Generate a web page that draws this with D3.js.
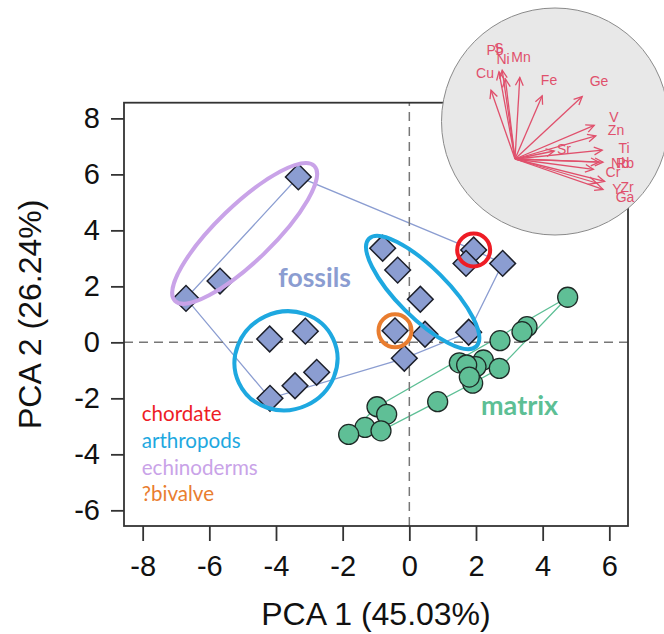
<!DOCTYPE html>
<html>
<head>
<meta charset="utf-8">
<script src="https://cdn.jsdelivr.net/npm/d3@7"></script>
<style>
body { margin: 0; background: #fff; }
svg { display: block; }
</style>
</head>
<body>
<script>
// fossil samples (diamonds), PCA scores
var fossilX = [-3.33, -5.68, -6.70, -4.19, -3.12, -2.78, -3.43, -4.18, -0.80, -0.35, 0.33, -0.43, 0.47, -0.15, 1.78, 1.93, 1.70, 2.80];
var fossilY = [5.91, 2.19, 1.57, 0.12, 0.40, -1.07, -1.55, -2.00, 3.36, 2.58, 1.54, 0.41, 0.29, -0.57, 0.36, 3.30, 2.82, 2.82];
// matrix samples (circles)
var matrixX = [4.75, 3.53, 3.38, 2.72, 2.22, 1.50, 2.00, 1.72, 2.70, 1.90, 1.80, 0.85, -0.97, -0.68, -1.33, -0.85, -1.82];
var matrixY = [1.61, 0.56, 0.38, 0.06, -0.63, -0.73, -0.87, -0.81, -0.93, -1.46, -1.24, -2.12, -2.30, -2.57, -3.04, -3.16, -3.29];

var xTicks = [-8, -6, -4, -2, 0, 2, 4, 6];
var yTicks = [-6, -4, -2, 0, 2, 4, 6, 8];

var groups = ["chordate", "arthropods", "echinoderms", "?bivalve"];
var groupColors = ["#ee1c25", "#1ea8e0", "#c9a3e8", "#e97d2f"];

// element loadings for the inset biplot (label positions, arrows drawn to 0.8)
var elements = ["Pb", "S", "Ni", "Mn", "Cu", "Fe", "Ge", "V", "Zn", "Sr", "Ti", "Nb", "Rb", "Cr", "Y", "Zr", "Ga"];
var loadX = [-0.20, -0.16, -0.12, 0.06, -0.30, 0.34, 0.84, 0.99, 1.01, 0.49, 1.09, 1.05, 1.10, 0.98, 1.02, 1.12, 1.10];
var loadY = [1.09, 1.11, 1.00, 1.02, 0.86, 0.79, 0.78, 0.42, 0.29, 0.10, 0.11, -0.04, -0.04, -0.13, -0.30, -0.28, -0.38];

var width = 664, height = 634;

var x = d3.scaleLinear().domain([-8.56, 6.56]).range([124, 628]),
    y = d3.scaleLinear().domain([-6.56, 8.56]).range([526, 102.7]);

var svg = d3.select("body").append("svg")
    .attr("width", width)
    .attr("height", height);

var fossils = fossilX.map(function(d, i) { return [x(d), y(fossilY[i])]; });
var matrix = matrixX.map(function(d, i) { return [x(d), y(matrixY[i])]; });

// convex hulls round each sample type
svg.append("path")
    .attr("d", "M" + d3.polygonHull(fossils).join("L") + "Z")
    .attr("fill", "none")
    .attr("stroke", "#8b9dd1")
    .attr("stroke-width", 1.3);

svg.append("path")
    .attr("d", "M" + d3.polygonHull(matrix).join("L") + "Z")
    .attr("fill", "none")
    .attr("stroke", "#5dbf95")
    .attr("stroke-width", 1.3);

// zero lines
svg.append("line")
    .attr("x1", x(0)).attr("x2", x(0))
    .attr("y1", y.range()[0]).attr("y2", y.range()[1])
    .attr("stroke", "#777").attr("stroke-width", 1.5)
    .attr("stroke-dasharray", "9,6");
svg.append("line")
    .attr("x1", x.range()[0]).attr("x2", x.range()[1])
    .attr("y1", y(0)).attr("y2", y(0))
    .attr("stroke", "#777").attr("stroke-width", 1.5)
    .attr("stroke-dasharray", "9,6");

// points
svg.selectAll(".matrix")
    .data(matrix)
  .enter().append("circle")
    .attr("class", "matrix")
    .attr("cx", function(d) { return d[0]; })
    .attr("cy", function(d) { return d[1]; })
    .attr("r", 10)
    .attr("fill", "#5fbf96")
    .attr("stroke", "#1e2a26")
    .attr("stroke-width", 1.3);

var diamond = d3.symbol().type(d3.symbolSquare).size(330);
svg.selectAll(".fossil")
    .data(fossils)
  .enter().append("path")
    .attr("class", "fossil")
    .attr("d", diamond)
    .attr("transform", function(d) { return "translate(" + d[0] + "," + d[1] + ")rotate(45)"; })
    .attr("fill", "#8b9dd1")
    .attr("stroke", "#1c1f2a")
    .attr("stroke-width", 1.5);

// group ellipses drawn over the points (centre in data units, radii in px)
var ellipses = [
  {g: 2, cx: -4.94, cy: 3.89, rx: 97, ry: 28, a: -44},
  {g: 1, cx: -3.70, cy: -0.66, rx: 52, ry: 49, a: -25},
  {g: 1, cx: 0.40, cy: 1.78, rx: 76, ry: 25, a: 45}
];
svg.selectAll(".group")
    .data(ellipses)
  .enter().append("ellipse")
    .attr("class", "group")
    .attr("transform", function(d) { return "translate(" + x(d.cx) + "," + y(d.cy) + ")rotate(" + d.a + ")"; })
    .attr("rx", function(d) { return d.rx; })
    .attr("ry", function(d) { return d.ry; })
    .attr("fill", "none")
    .attr("stroke", function(d) { return groupColors[d.g]; })
    .attr("stroke-width", 4);

// chordate and ?bivalve specimens
var marked = [{i: 15, g: 0}, {i: 11, g: 3}];
svg.selectAll(".marked")
    .data(marked)
  .enter().append("circle")
    .attr("class", "marked")
    .attr("cx", function(d) { return fossils[d.i][0]; })
    .attr("cy", function(d) { return fossils[d.i][1]; })
    .attr("r", 16.5)
    .attr("fill", "none")
    .attr("stroke", function(d) { return groupColors[d.g]; })
    .attr("stroke-width", 4);

// axes
var xAxis = svg.append("g")
    .attr("transform", "translate(0," + y.range()[0] + ")")
    .call(d3.axisBottom(x).tickValues(xTicks).tickSize(15).tickSizeOuter(0).tickPadding(14));
var yAxis = svg.append("g")
    .attr("transform", "translate(" + x.range()[0] + ",0)")
    .call(d3.axisLeft(y).tickValues(yTicks).tickSize(13).tickSizeOuter(0).tickPadding(11));

[xAxis, yAxis].forEach(function(a) {
  a.select(".domain").remove();
  a.selectAll("line").attr("stroke", "#333").attr("stroke-width", 1.8);
  a.selectAll("text")
      .attr("fill", "#111")
      .style("font-family", "'Liberation Sans', Arial, sans-serif")
      .style("font-size", "29px")
      .text(function(d) { return d < 0 ? "-" + Math.abs(d) : d; });
});

svg.append("rect")
    .attr("x", x.range()[0])
    .attr("y", y.range()[1])
    .attr("width", x.range()[1] - x.range()[0])
    .attr("height", y.range()[0] - y.range()[1])
    .attr("fill", "none")
    .attr("stroke", "#333")
    .attr("stroke-width", 1.8);

svg.append("text")
    .attr("x", (x.range()[0] + x.range()[1]) / 2)
    .attr("y", 625)
    .attr("text-anchor", "middle")
    .style("font-family", "'Liberation Sans', Arial, sans-serif")
    .style("font-size", "32px")
    .attr("fill", "#111")
    .text("PCA 1 (45.03%)");

svg.append("text")
    .attr("transform", "translate(41," + (y.range()[0] + y.range()[1]) / 2 + ")rotate(-90)")
    .attr("text-anchor", "middle")
    .style("font-family", "'Liberation Sans', Arial, sans-serif")
    .style("font-size", "32px")
    .attr("fill", "#111")
    .text("PCA 2 (26.24%)");

// labels
svg.append("text")
    .attr("x", x(-3.93)).attr("y", y(1.97))
    .style("font-family", "Lato, 'Open Sans', sans-serif")
    .style("font-weight", "bold")
    .style("font-size", "26.5px")
    .attr("fill", "#8b9dd1")
    .text("fossils");
svg.append("text")
    .attr("x", x(2.15)).attr("y", y(-2.6))
    .style("font-family", "Lato, 'Open Sans', sans-serif")
    .style("font-weight", "bold")
    .style("font-size", "27px")
    .attr("fill", "#5dbf95")
    .text("matrix");

svg.selectAll(".legend")
    .data(groups)
  .enter().append("text")
    .attr("class", "legend")
    .attr("x", 141.7)
    .attr("y", function(d, i) { return 421 + i * 26.8; })
    .style("font-family", "Lato, 'Open Sans', sans-serif")
    .style("font-size", "20.6px")
    .attr("fill", function(d, i) { return groupColors[i]; })
    .text(function(d) { return d; });

// inset: loadings biplot in a grey disc
var inset = svg.append("g");
inset.append("circle")
    .attr("cx", 555).attr("cy", 121.5).attr("r", 113.5)
    .attr("fill", "#e8e8e8")
    .attr("stroke", "#8a8a8a")
    .attr("stroke-width", 1);

var ix = d3.scaleLinear().domain([0, 1]).range([515, 615]),
    iy = d3.scaleLinear().domain([0, 1]).range([159, 59]);

var pink = "#e0506c";
elements.forEach(function(el, i) {
  var x0 = ix(0), y0 = iy(0),
      x1 = ix(loadX[i] * 0.8), y1 = iy(loadY[i] * 0.8),
      ang = Math.atan2(y1 - y0, x1 - x0),
      hl = 9, ha = Math.PI / 7;
  inset.append("line")
      .attr("x1", x0).attr("y1", y0).attr("x2", x1).attr("y2", y1)
      .attr("stroke", pink).attr("stroke-width", 1.3);
  inset.append("path")
      .attr("d", "M" + (x1 - hl * Math.cos(ang - ha)) + "," + (y1 - hl * Math.sin(ang - ha)) +
                 "L" + x1 + "," + y1 +
                 "L" + (x1 - hl * Math.cos(ang + ha)) + "," + (y1 - hl * Math.sin(ang + ha)))
      .attr("fill", "none")
      .attr("stroke", pink).attr("stroke-width", 1.3);
  inset.append("text")
      .attr("x", ix(loadX[i])).attr("y", iy(loadY[i]))
      .attr("dy", "0.35em")
      .attr("text-anchor", "middle")
      .style("font-family", "'Liberation Sans', Arial, sans-serif")
      .style("font-size", "14px")
      .attr("fill", pink)
      .text(el);
});
</script>
</body>
</html>
